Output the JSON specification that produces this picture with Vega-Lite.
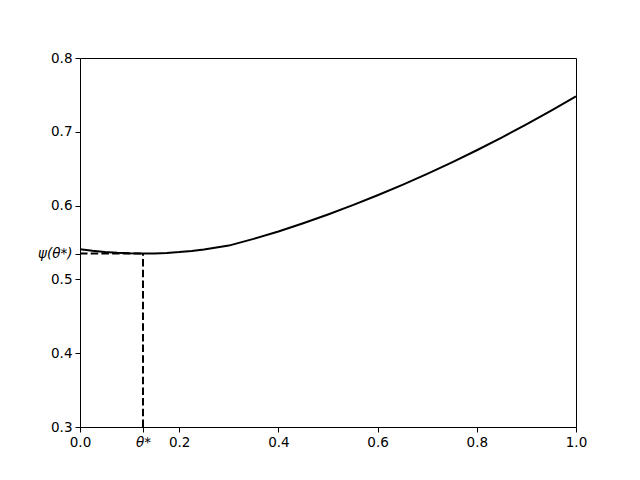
{
  "$schema": "https://vega.github.io/schema/vega-lite/v6.json",
  "width": 496,
  "height": 369,
  "autosize": "none",
  "padding": {"left": 80, "top": 58, "right": 64, "bottom": 53},
  "background": "white",
  "config": {
    "view": {"stroke": "black", "strokeWidth": 1},
    "font": "DejaVu Sans",
    "axis": {
      "domain": false,
      "grid": false,
      "tickColor": "black",
      "tickSize": 5,
      "tickWidth": 1,
      "labelColor": "black",
      "labelFont": "DejaVu Sans",
      "labelFontSize": 13.5,
      "labelPadding": 3,
      "title": null
    }
  },
  "layer": [
    {
      "data": {"values": [
        {"theta": 0.0, "psi": 0.541},
        {"theta": 0.025, "psi": 0.5388},
        {"theta": 0.05, "psi": 0.5372},
        {"theta": 0.075, "psi": 0.536},
        {"theta": 0.1, "psi": 0.5353},
        {"theta": 0.127, "psi": 0.535},
        {"theta": 0.15, "psi": 0.5352},
        {"theta": 0.175, "psi": 0.5359},
        {"theta": 0.2, "psi": 0.537},
        {"theta": 0.225, "psi": 0.5386},
        {"theta": 0.25, "psi": 0.5406},
        {"theta": 0.275, "psi": 0.5431},
        {"theta": 0.3, "psi": 0.5458},
        {"theta": 0.35, "psi": 0.5549},
        {"theta": 0.4, "psi": 0.565},
        {"theta": 0.45, "psi": 0.5761},
        {"theta": 0.5, "psi": 0.588},
        {"theta": 0.55, "psi": 0.6006},
        {"theta": 0.6, "psi": 0.614},
        {"theta": 0.65, "psi": 0.6281},
        {"theta": 0.7, "psi": 0.643},
        {"theta": 0.75, "psi": 0.6586},
        {"theta": 0.8, "psi": 0.675},
        {"theta": 0.85, "psi": 0.6921},
        {"theta": 0.9, "psi": 0.710},
        {"theta": 0.95, "psi": 0.7286},
        {"theta": 1.0, "psi": 0.748}
      ]},
      "mark": {"type": "line", "color": "black", "strokeWidth": 2, "clip": true},
      "encoding": {
        "x": {
          "field": "theta", "type": "quantitative",
          "scale": {"domain": [0, 1], "nice": false, "zero": false},
          "axis": {
            "values": [0, 0.127, 0.2, 0.4, 0.6, 0.8, 1.0],
            "labelExpr": "datum.value == 0.127 ? 'θ*' : format(datum.value, '.1f')",
            "labelFontStyle": {"condition": {"test": "datum.value == 0.127", "value": "italic"}, "value": "normal"},
            "labelFlush": false
          }
        },
        "y": {
          "field": "psi", "type": "quantitative",
          "scale": {"domain": [0.3, 0.8], "nice": false, "zero": false},
          "axis": {
            "values": [0.3, 0.4, 0.5, 0.535, 0.6, 0.7, 0.8],
            "labelExpr": "datum.value == 0.535 ? 'ψ(θ*)' : format(datum.value, '.1f')",
            "labelFontStyle": {"condition": {"test": "datum.value == 0.535", "value": "italic"}, "value": "normal"},
            "labelFlush": false,
            "labelOverlap": false
          }
        }
      }
    },
    {
      "data": {"values": [
        {"xa": 0.127, "xb": 0.127, "ya": 0.3, "yb": 0.535},
        {"xa": 0.0, "xb": 0.127, "ya": 0.535, "yb": 0.535}
      ]},
      "mark": {"type": "rule", "color": "black", "strokeWidth": 2, "strokeDash": [7.5, 3.2]},
      "encoding": {
        "x": {"field": "xa", "type": "quantitative"},
        "x2": {"field": "xb"},
        "y": {"field": "ya", "type": "quantitative"},
        "y2": {"field": "yb"}
      }
    }
  ]
}
